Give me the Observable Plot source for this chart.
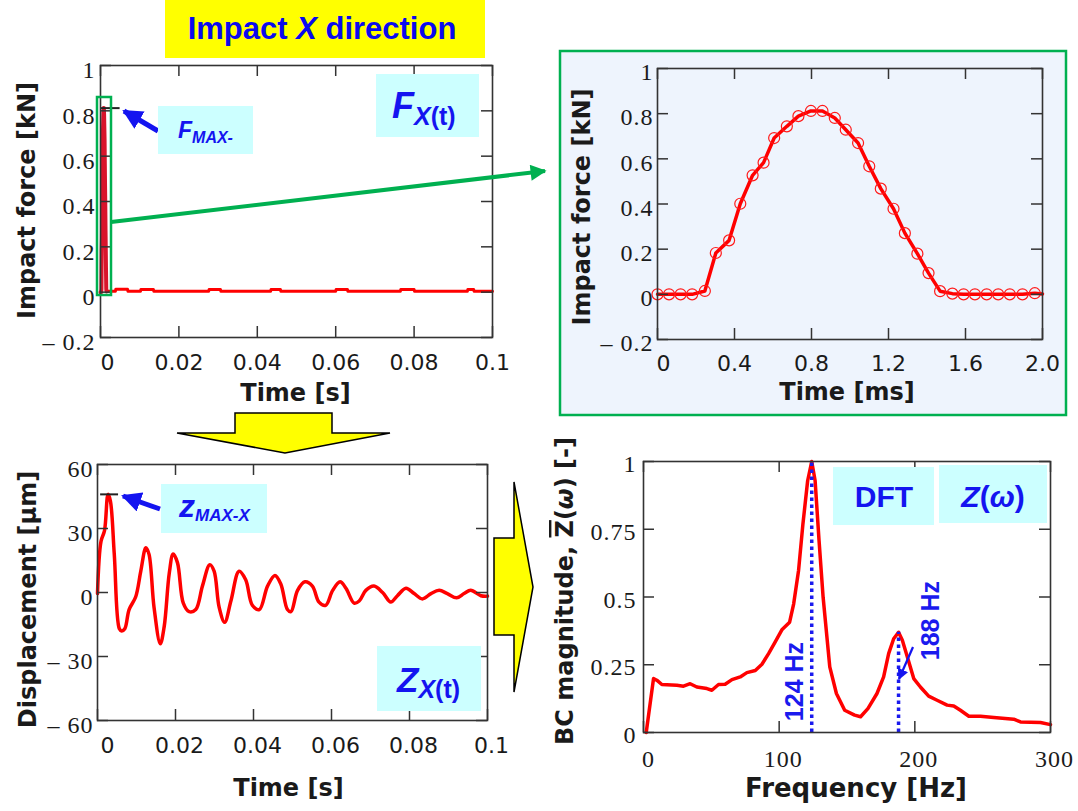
<!DOCTYPE html>
<html>
<head>
<meta charset="utf-8">
<script src="https://cdn.jsdelivr.net/npm/d3@7"></script>
<script src="https://cdn.jsdelivr.net/npm/@observablehq/plot@0.6"></script>
<style>
  html, body { margin: 0; padding: 0; background: #fff; }
  #fig { position: relative; width: 1078px; height: 811px; overflow: hidden; }
  #fig > svg { position: absolute; left: 0; top: 0; }
  g[font-family^="Liberation Serif"] text { letter-spacing: 1px; }
</style>
</head>
<body>
<div id="fig"></div>
<script>
// ---- Impact force pulse (time in ms, force in kN) ----
const pulseMs = [0, 0.06, 0.12, 0.18, 0.246, 0.303, 0.372, 0.43, 0.494, 0.551, 0.606, 0.672, 0.732, 0.797, 0.857,
  0.921, 0.978, 1.042, 1.10, 1.16, 1.226, 1.285, 1.35, 1.408, 1.468, 1.532, 1.59, 1.649, 1.71, 1.77, 1.83, 1.896, 1.96, 2.0];
const pulseKN = [0, 0, 0, 0, 0.015, 0.183, 0.239, 0.401, 0.527, 0.583, 0.692, 0.744, 0.789, 0.812, 0.812,
  0.781, 0.729, 0.670, 0.567, 0.468, 0.379, 0.271, 0.180, 0.094, 0.014, 0.003, 0, 0, 0, 0, 0, 0, 0.005, 0.002];

// ---- Residual force after the impact (time in s, force in kN) ----
const tailS = [0.0016, 0.0038, 0.0039, 0.0069, 0.0070, 0.0102, 0.0103, 0.0135, 0.0136, 0.0276, 0.0277, 0.0306, 0.0307,
  0.0434, 0.0435, 0.0459, 0.0460, 0.0600, 0.0601, 0.0630, 0.0631, 0.0765, 0.0766, 0.0800, 0.0801, 0.0936, 0.0937, 0.0952, 0.0953, 0.1];
const tailKN = [0.004, 0.004, 0.013, 0.013, 0.004, 0.004, 0.012, 0.012, 0.004, 0.004, 0.012, 0.012, 0.004,
  0.004, 0.012, 0.012, 0.004, 0.004, 0.012, 0.012, 0.004, 0.004, 0.012, 0.012, 0.004, 0.004, 0.012, 0.012, 0.004, 0.004];

// ---- Displacement response (time in s, displacement in μm) ----
const dispS = [0, 0.0009, 0.0018, 0.0027, 0.0033, 0.0043, 0.0056, 0.0062, 0.0070, 0.0081, 0.0098, 0.0111, 0.0124, 0.0132,
  0.0145, 0.0161, 0.0171, 0.0184, 0.0194, 0.0205, 0.0220, 0.0235, 0.0252, 0.0269, 0.0288, 0.0299, 0.0312, 0.0326,
  0.0342, 0.0363, 0.0380, 0.0397, 0.0415, 0.0436, 0.0455, 0.0470, 0.0487, 0.0496, 0.0513, 0.0532, 0.0551, 0.0568,
  0.0585, 0.0603, 0.0622, 0.0637, 0.0658, 0.0671, 0.0688, 0.0709, 0.0731, 0.0752, 0.0769, 0.0791, 0.0812, 0.0833,
  0.0855, 0.0876, 0.0897, 0.0921, 0.0940, 0.0957, 0.0983, 0.1];
const dispUm = [-0.5, 24, 29, 46, 43, 18, -17, -18, -17, -8, -2, 10, 21, 18,
  -7, -24, -16, 9, 18, 14, -5, -9, -8, 3, 13, 10, -7, -14,
  -4, 10, 6, -6, -8, 3, 8, 4, -8, -9, 1, 5, 3, -4.5,
  -6, 1, 5, 2, -5, -4, 1, 3, 0, -4.5, -1.5, 2, -0.5, -3,
  -0.5, 1, -0.5, -2.5, -0.5, 1, -1.5, -1.7];

// ---- Normalised DFT magnitude (frequency in Hz) ----
const freqHz = [2, 7.4, 9.8, 13.5, 24.6, 29.5, 34.4, 39.3, 46.7, 50.4, 55.3, 60.2, 65.2, 71.3, 76.2, 82.4, 87.3, 92.2,
  97.1, 102, 107.7, 110.7, 114.3, 117.5, 121, 124, 126.5, 129.4, 132.4, 137.3, 142.2, 148.3, 155.6, 160, 165.4,
  172.1, 177, 180.7, 184.4, 188, 190.8, 194.5, 199.2, 204.1, 210.2, 216.4, 223.8, 228.7, 233.6, 239.8, 248.4,
  258.2, 272.9, 277.9, 292.6, 300];
const magBC = [0, 0.199, 0.193, 0.177, 0.174, 0.171, 0.180, 0.168, 0.162, 0.156, 0.177, 0.178, 0.195, 0.205, 0.221, 0.229, 0.252, 0.291,
  0.334, 0.379, 0.407, 0.475, 0.598, 0.769, 0.929, 1.0, 0.929, 0.708, 0.499, 0.242, 0.144, 0.082, 0.064, 0.058, 0.088,
  0.144, 0.205, 0.291, 0.346, 0.370, 0.340, 0.279, 0.199, 0.168, 0.134, 0.119, 0.101, 0.098, 0.082, 0.060, 0.060,
  0.055, 0.049, 0.039, 0.037, 0.029];
const peakHz = [124, 188];
const peakMag = [1.0, 0.37];

// ---- Axis ticks and labels ----
const timeTicksS = [0, 0.02, 0.04, 0.06, 0.08, 0.1];
const timeLabelsS = ["0", "0.02", "0.04", "0.06", "0.08", "0.1"];
const forceTicks = [-0.2, 0, 0.2, 0.4, 0.6, 0.8, 1];
const forceLabels = ["\u2013 0.2", "0", "0.2", "0.4", "0.6", "0.8", "1"];
const timeTicksMs = [0, 0.4, 0.8, 1.2, 1.6, 2.0];
const timeLabelsMs = ["0", "0.4", "0.8", "1.2", "1.6", "2.0"];
const dispTicks = [-60, -30, 0, 30, 60];
const dispLabels = ["\u2013 60", "\u2013 30", "0", "30", "60"];
const freqTicks = [0, 100, 200, 300];
const freqLabels = ["0", "100", "200", "300"];
const magTicks = [0, 0.25, 0.5, 0.75, 1];
const magLabels = ["0", "0.25", "0.5", "0.75", "1"];

// ---- Records built from the arrays ----
const pulse = pulseMs.map((t, i) => ({t, f: pulseKN[i]}));
const spike = pulse.filter(d => d.t < 1.55).map(d => ({t: d.t / 1000, f: d.f}));
const tail = tailS.map((t, i) => ({t, f: tailKN[i]}));
const disp = dispS.map((t, i) => ({t, z: dispUm[i]}));
const spectrum = freqHz.map((f, i) => ({f, m: magBC[i]}));
const peaks = peakHz.map((f, i) => ({f, m: peakMag[i]}));

const W = 1078, H = 811;
const SERIF = "Liberation Serif, 'Times New Roman', Times, serif";
const SANS = "'DejaVu Sans', Verdana, sans-serif";
const INK = "#1a1a1a";

// One framed panel, laid out in page coordinates (L, T, R, B = frame edges)
function panel(o) {
  const fw = o.R - o.L, fh = o.B - o.T;
  const tickStyle = {stroke: "#333", strokeWidth: 1.5};
  const zero = o.xTicks.filter(d => d === 0);
  const rest = o.xTicks.filter(d => d !== 0);
  const xl = d => o.xLabels[o.xTicks.indexOf(d)];
  const xLab = {frameAnchor: "bottom", textAnchor: "middle", lineAnchor: "middle", dy: o.xdy,
    fontFamily: o.xSerif ? SERIF : SANS, fontSize: o.xSerif ? 24 : 22, fill: INK};
  const marks = [
    ...o.marks,
    Plot.frame({stroke: "#333", strokeWidth: 1.6}),
    Plot.tickX(o.xTicks, {x: d => d, insetTop: fh - 11, ...tickStyle}),
    Plot.tickX(o.xTicks, {x: d => d, insetBottom: fh - 11, ...tickStyle}),
    Plot.tickY(o.yTicks, {y: d => d, insetRight: fw - 11, ...tickStyle}),
    Plot.tickY(o.yTicks, {y: d => d, insetLeft: fw - 11, ...tickStyle}),
    Plot.text(rest, {x: d => d, text: xl, dx: o.xdx, ...xLab}),
    Plot.text(zero, {x: d => d, text: xl, dx: o.x0dx, ...xLab}),
    Plot.text(o.yTicks, {y: d => d, text: (d, i) => o.yLabels[i], frameAnchor: "left", textAnchor: "end",
      lineAnchor: "middle", dx: o.ydx, dy: o.ydy, fontFamily: SERIF, fontSize: 24, fill: INK}),
    Plot.text([o.xTitle], {text: d => d, frameAnchor: "bottom", textAnchor: "middle", lineAnchor: "middle",
      dx: o.xtdx, dy: o.xtdy, fontFamily: SANS, fontWeight: "bold", fontSize: o.xtSize || 24, fill: INK})
  ];
  if (o.yTitle) marks.push(Plot.text([o.yTitle], {text: d => d, frameAnchor: "left", rotate: -90,
      textAnchor: "middle", lineAnchor: "middle",
      dx: o.ytdx, dy: o.ytdy, fontFamily: SANS, fontWeight: "bold", fontSize: 24, fill: INK}));
  return Plot.plot({
    width: W, height: H,
    marginLeft: o.L, marginRight: W - o.R, marginTop: o.T, marginBottom: H - o.B,
    style: {background: "transparent", overflow: "visible"},
    x: {domain: o.xDomain, axis: null},
    y: {domain: o.yDomain, axis: null},
    marks
  });
}

const fig = document.getElementById("fig");
const NS = "http://www.w3.org/2000/svg";

// Background: highlighted zoom box behind the pulse panel
const bg = document.createElementNS(NS, "svg");
bg.setAttribute("width", W); bg.setAttribute("height", H);
bg.innerHTML = `<rect x="560" y="51" width="506" height="364" fill="#eef4fd" stroke="#00b050" stroke-width="2.5"/>`;
fig.appendChild(bg);

// Impact force over the full record
fig.appendChild(panel({
  L: 100, T: 65, R: 492, B: 337,
  xDomain: [0, 0.1], yDomain: [-0.2, 1],
  xTicks: timeTicksS, xLabels: timeLabelsS, xdx: 0, x0dx: 7, xdy: 25,
  yTicks: forceTicks, yLabels: forceLabels, ydx: -5, ydy: 5,
  xTitle: "Time [s]", xtdx: -1, xtdy: 56,
  yTitle: "Impact force [kN]", ytdx: -73, ytdy: -1,
  marks: [
    Plot.line(tail, {x: "t", y: "f", stroke: "#ff0000", strokeWidth: 3}),
    Plot.line(spike, {x: "t", y: "f", stroke: "#d9142b", strokeWidth: 4}),
    Plot.ruleY([d3.max(pulseKN)], {x1: 0, x2: 0.005, stroke: "#222", strokeWidth: 2})
  ]
}));

// Zoom on the impact pulse
fig.appendChild(panel({
  L: 657, T: 68, R: 1042, B: 339,
  xDomain: [0, 2], yDomain: [-0.2, 1],
  xTicks: timeTicksMs, xLabels: timeLabelsMs, xdx: 0, x0dx: 6, xdy: 24,
  yTicks: forceTicks, yLabels: forceLabels, ydx: -4, ydy: 4,
  xTitle: "Time [ms]", xtdx: -3, xtdy: 53,
  yTitle: "Impact force [kN]", ytdx: -75, ytdy: 3,
  marks: [
    Plot.line(pulse, {x: "t", y: "f", stroke: "#ff0000", strokeWidth: 3.5}),
    Plot.dot(pulse, {filter: d => d.t < 1.99, x: "t", y: "f", r: 5.5, stroke: "#ff1a1a", strokeWidth: 1.2, fill: "none"})
  ]
}));

// Displacement response
fig.appendChild(panel({
  L: 97, T: 464, R: 487, B: 720,
  xDomain: [0, 0.1], yDomain: [-60, 60],
  xTicks: timeTicksS, xLabels: timeLabelsS, xdx: 4, x0dx: 10, xdy: 25,
  yTicks: dispTicks, yLabels: dispLabels, ydx: -4, ydy: 5,
  xTitle: "Time [s]", xtdx: -4, xtdy: 68,
  yTitle: "Displacement [\u03bcm]", ytdx: -69, ytdy: 7,
  marks: [
    Plot.line(disp, {x: "t", y: "z", stroke: "#ff0000", strokeWidth: 3.5, curve: "catmull-rom"}),
    Plot.ruleY([d3.max(dispUm)], {x1: 0.0008, x2: 0.0054, stroke: "#222", strokeWidth: 2})
  ]
}));

// Frequency spectrum
fig.appendChild(panel({
  L: 643, T: 461, R: 1050, B: 732,
  xDomain: [0, 300], yDomain: [0, 1],
  xTicks: freqTicks, xLabels: freqLabels, xSerif: true, xdx: 4, x0dx: 5, xdy: 27,
  yTicks: magTicks, yLabels: magLabels, ydx: -7, ydy: 3,
  xTitle: "Frequency [Hz]", xtdx: 9, xtdy: 56, xtSize: 26,
  marks: [
    Plot.line(spectrum, {x: "f", y: "m", stroke: "#ff0000", strokeWidth: 3.5}),
    Plot.ruleX(peaks, {x: "f", y1: 0, y2: "m", stroke: "#1a1aee", strokeWidth: 3.5, strokeDasharray: "3.5,3.5"}),
    Plot.text(peaks.slice(0, 1), {x: "f", y: 0.188, text: d => `${d.f} Hz`, rotate: -90, dx: -17,
      fontFamily: "Liberation Sans, Arial, sans-serif", fontWeight: "bold", fontSize: 25, fill: "#1a1aee"}),
    Plot.text(peaks.slice(1), {x: "f", y: 0.413, text: d => `${d.f} Hz`, rotate: -90, dx: 32,
      fontFamily: "Liberation Sans, Arial, sans-serif", fontWeight: "bold", fontSize: 25, fill: "#1a1aee"})
  ]
}));

// Overlay: title, callouts, connecting arrows
const ov = document.createElementNS(NS, "svg");
ov.setAttribute("width", W); ov.setAttribute("height", H);
const BLUE = "#1414f0";
ov.innerHTML = `
<defs>
  <marker id="gh" viewBox="0 0 10 10" refX="9" refY="5" markerWidth="4.2" markerHeight="4" orient="auto"><path d="M0,0L10,5L0,10z" fill="#00b050"/></marker>
  <marker id="bh" viewBox="0 0 10 10" refX="9" refY="5" markerWidth="4" markerHeight="4" orient="auto"><path d="M0,0L10,5L0,10z" fill="${BLUE}"/></marker>
  <marker id="bs" viewBox="0 0 10 10" refX="9" refY="5" markerWidth="5" markerHeight="5" orient="auto"><path d="M0,0L10,5L0,10z" fill="${BLUE}"/></marker>
</defs>
<rect x="165" y="0" width="320" height="58" fill="#ffff00"/>
<text x="322" y="39" text-anchor="middle" font-family="Liberation Sans" font-weight="bold" font-size="31" fill="#0a0aee">Impact <tspan font-style="italic">X</tspan> direction</text>

<rect x="97" y="97" width="14" height="198" fill="none" stroke="#00b050" stroke-width="2.5"/>
<line x1="111" y1="222" x2="545" y2="171" stroke="#00b050" stroke-width="4" marker-end="url(#gh)"/>

<line x1="158" y1="131" x2="124" y2="111" stroke="${BLUE}" stroke-width="5" marker-end="url(#bh)"/>
<rect x="158" y="106" width="95" height="48" fill="#ccffff"/>
<text x="178" y="138" font-family="Liberation Sans" font-weight="bold" font-style="italic" fill="${BLUE}"><tspan font-size="23">F</tspan><tspan font-size="16" dy="5">MAX-</tspan></text>

<rect x="376" y="74" width="103" height="63" fill="#ccffff"/>
<text x="392" y="118" font-family="Liberation Sans" font-weight="bold" fill="${BLUE}"><tspan font-size="36" font-style="italic">F</tspan><tspan font-size="25" dy="7" font-style="italic">X</tspan><tspan font-size="25">(t)</tspan></text>

<polygon points="235,413 332,413 332,433 390,433 285,453 177,433 235,433" fill="#ffff00" stroke="#000" stroke-width="1.5" stroke-linejoin="miter"/>
<polygon points="494,538 514,538 514,482 533,587 514,692 514,635 494,635" fill="#ffff00" stroke="#000" stroke-width="1.5"/>

<line x1="160" y1="509" x2="123" y2="496" stroke="${BLUE}" stroke-width="5" marker-end="url(#bh)"/>
<rect x="161" y="484" width="106" height="49" fill="#ccffff"/>
<text x="179" y="517" font-family="Liberation Sans" font-weight="bold" font-style="italic" fill="${BLUE}"><tspan font-size="32">z</tspan><tspan font-size="17" dy="4">MAX-X</tspan></text>

<rect x="377" y="646" width="104" height="65" fill="#ccffff"/>
<text x="397" y="692" font-family="Liberation Sans" font-weight="bold" fill="${BLUE}"><tspan font-size="35" font-style="italic">Z</tspan><tspan font-size="25" dy="6" font-style="italic">X</tspan><tspan font-size="25">(t)</tspan></text>

<rect x="833" y="467" width="101" height="58" fill="#ccffff"/>
<text x="884" y="507" text-anchor="middle" font-family="Liberation Sans" font-weight="bold" font-size="30" fill="${BLUE}">DFT</text>
<rect x="939" y="465" width="108" height="58" fill="#ccffff"/>
<text x="993" y="507" text-anchor="middle" font-family="Liberation Sans" font-weight="bold" font-size="30" fill="${BLUE}"><tspan font-style="italic">Z</tspan>(<tspan font-style="italic">\u03c9</tspan>)</text>

<line x1="913" y1="647" x2="899" y2="679" stroke="${BLUE}" stroke-width="2.2" marker-end="url(#bs)"/>

<text transform="translate(573,591) rotate(-90)" text-anchor="middle" font-family="DejaVu Sans" font-weight="bold" font-size="24" fill="${INK}">BC magnitude, <tspan text-decoration="overline">Z</tspan>(<tspan font-style="italic">\u03c9</tspan>) [-]</text>
`;
fig.appendChild(ov);
</script>
</body>
</html>
